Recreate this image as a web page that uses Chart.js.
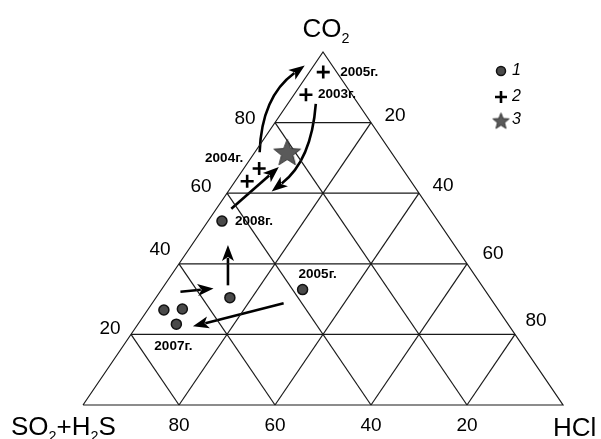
<!DOCTYPE html>
<html><head><meta charset="utf-8">
<script src="https://cdn.jsdelivr.net/npm/chart.js@4"></script>
<style>html,body{margin:0;padding:0;background:#fff}#wrap{width:601px;height:439px;position:relative}</style>
</head><body><div id="wrap"><canvas id="c" width="601" height="439"></canvas></div>
<script>
// ---- data (ternary percentages) ----
const gridLevels = [20, 40, 60, 80];
const leftTickLabels = ['20', '40', '60', '80'];     // CO2 at levels 20..80
const rightTickLabels = ['20', '40', '60', '80'];    // HCl at levels 20..80
const bottomTickLabels = ['80', '60', '40', '20'];   // SO2+H2S at HCl levels 20..80

// series 1 (circles)
const s1CO2 = [52.1, 30.4, 32.7, 26.9, 27.2, 22.9];
const s1HCl = [2.9, 15.4, 29.4, 3.4, 7.1, 8.0];
// series 2 (crosses)
const s2CO2 = [94.3, 87.9, 67.0, 63.4];
const s2HCl = [2.9, 2.5, 3.2, 2.5];
// series 3 (star)
const s3CO2 = [71.7];
const s3HCl = [6.7];

// year labels attached to points: [series, index, text]
const yearSeries = [2, 2, 2, 1, 1, 1];
const yearIndex = [0, 1, 2, 0, 2, 5];
const yearText = ['2005г.', '2003г.', '2004г.', '2008г.', '2005г.', '2007г.'];

// arrows (ternary [CO2, HCl]); via = control point for curved arrows
const arrowFrom = [[71.6, 1.0], [85.3, 5.85], [55.6, 3.1], [33.9, 13.25], [32.1, 4.25], [28.8, 27.4]];
const arrowVia  = [[87.3, -6.45], [69.3, 12.95], null, null, null, null];
const arrowTo   = [[96.2, -1.9], [60.5, 9.05], [67.4, 7.1], [45.3, 7.55], [33.0, 10.7], [22.3, 11.75]];

const legendLabels = ['1', '2', '3'];

// ---- helpers ----
function tern(co2, hcl) { return { x: hcl + co2 / 2, y: co2 }; }
function pts(c, h) { return c.map((v, i) => tern(v, h[i])); }

function starImage(R, fill) {
  const s = Math.ceil(2 * R + 4);
  const cv = document.createElement('canvas');
  cv.width = s; cv.height = s;
  const g = cv.getContext('2d');
  g.beginPath();
  for (let i = 0; i < 10; i++) {
    const r = i % 2 ? R * 0.43 : R;
    const a = -Math.PI / 2 + i * Math.PI / 5;
    g.lineTo(s / 2 + r * Math.cos(a), s / 2 + 1.5 + r * Math.sin(a));
  }
  g.closePath();
  g.fillStyle = fill; g.fill();
  g.lineWidth = 1; g.strokeStyle = '#333'; g.stroke();
  return cv;
}
const bigStar = starImage(14, '#5a5a5a');
const smallStar = starImage(8.5, '#5a5a5a');

// grid lines
const gridSets = [];
const lineStyle = { showLine: true, pointRadius: 0, borderColor: '#1a1a1a', borderWidth: 1.2, fill: false, order: 10, clip: false };
gridSets.push(Object.assign({ data: [tern(0, 0), tern(0, 100), tern(100, 0), tern(0, 0)] }, lineStyle));
gridLevels.forEach(k => {
  gridSets.push(Object.assign({ data: [tern(k, 0), tern(k, 100 - k)] }, lineStyle));         // CO2 = k
  gridSets.push(Object.assign({ data: [tern(0, k), tern(100 - k, k)] }, lineStyle));         // HCl = k
  gridSets.push(Object.assign({ data: [tern(0, 100 - k), tern(100 - k, 0)] }, lineStyle));   // S = k
});

const series = [
  { data: pts(s1CO2, s1HCl), showLine: false, pointStyle: 'circle', pointRadius: 5, backgroundColor: '#4a4a4a', borderColor: '#111', borderWidth: 1.5, order: 1, clip: false },
  { data: pts(s2CO2, s2HCl), showLine: false, pointStyle: 'cross', pointRadius: 6.5, borderColor: '#000', borderWidth: 2.6, order: 1, clip: false },
  { data: pts(s3CO2, s3HCl), showLine: false, pointStyle: bigStar, pointRadius: 14, order: 0, clip: false }
];

function drawSub(ctx, parts, x, y, size, align) {
  ctx.textBaseline = 'alphabetic';
  ctx.textAlign = 'left';
  let w = 0;
  parts.forEach(p => { ctx.font = (p[1] ? size * 0.55 : size) + 'px "Liberation Sans", Arial, sans-serif'; w += ctx.measureText(p[0]).width; });
  let cx = align === 'center' ? x - w / 2 : x;
  parts.forEach(p => {
    ctx.font = (p[1] ? size * 0.55 : size) + 'px "Liberation Sans", Arial, sans-serif';
    ctx.fillText(p[0], cx, p[1] ? y + size * 0.22 : y);
    cx += ctx.measureText(p[0]).width;
  });
}

function arrowHead(ctx, tx, ty, dx, dy, len, hw) {
  const L = Math.hypot(dx, dy); const ux = dx / L, uy = dy / L;
  ctx.beginPath();
  ctx.moveTo(tx, ty);
  ctx.lineTo(tx - ux * len - uy * hw, ty - uy * len + ux * hw);
  ctx.lineTo(tx - ux * len * 0.75, ty - uy * len * 0.75);
  ctx.lineTo(tx - ux * len + uy * hw, ty - uy * len - ux * hw);
  ctx.closePath();
  ctx.fill();
}

const ternPlugin = {
  id: 'tern',
  beforeDatasetsDraw(chart) {
    const ctx = chart.ctx, xs = chart.scales.x, ys = chart.scales.y;
    const P = t => { const p = tern(t[0], t[1]); return [xs.getPixelForValue(p.x), ys.getPixelForValue(p.y)]; };
    ctx.save();
    ctx.strokeStyle = '#000'; ctx.fillStyle = '#000'; ctx.lineWidth = 2.6; ctx.lineCap = 'butt';
    arrowFrom.forEach((f, i) => {
      const a = P(f), b = P(arrowTo[i]);
      const c = arrowVia[i] ? P(arrowVia[i]) : null;
      const dx = c ? b[0] - c[0] : b[0] - a[0];
      const dy = c ? b[1] - c[1] : b[1] - a[1];
      const L = Math.hypot(dx, dy);
      const len = 16;
      const ex = b[0] - dx / L * len * 0.8, ey = b[1] - dy / L * len * 0.8;
      ctx.beginPath();
      ctx.moveTo(a[0], a[1]);
      if (c) ctx.quadraticCurveTo(c[0], c[1], ex, ey); else ctx.lineTo(ex, ey);
      ctx.stroke();
      arrowHead(ctx, b[0], b[1], dx, dy, len, 6);
    });
    ctx.restore();
  },
  afterDatasetsDraw(chart) {
    const ctx = chart.ctx, xs = chart.scales.x, ys = chart.scales.y;
    const P = (c, h) => { const p = tern(c, h); return [xs.getPixelForValue(p.x), ys.getPixelForValue(p.y)]; };
    ctx.save();
    ctx.fillStyle = '#000';
    // axis titles
    drawSub(ctx, [['CO', false], ['2', true]], 326, 37, 26, 'center');
    drawSub(ctx, [['SO', false], ['2', true], ['+H', false], ['2', true], ['S', false]], 11, 435, 26, 'left');
    drawSub(ctx, [['HCl', false]], 553, 436, 26, 'left');
    // tick labels
    ctx.font = '19px "Liberation Sans", Arial, sans-serif';
    ctx.textAlign = 'center'; ctx.textBaseline = 'middle';
    const leftOff = [[-21, -6], [-19, -14], [-26, -6], [-30, -4]];
    const rightOff = [[24, -7], [24, -7], [26, -10], [21, -14]];
    gridLevels.forEach((k, i) => {
      let p = P(k, 0);
      ctx.fillText(leftTickLabels[i], p[0] + leftOff[i][0], p[1] + leftOff[i][1]);
      p = P(100 - k, k);
      ctx.fillText(rightTickLabels[i], p[0] + rightOff[i][0], p[1] + rightOff[i][1]);
      p = P(0, k);
      ctx.fillText(bottomTickLabels[i], p[0], p[1] + 21);
    });
    // year labels
    ctx.font = 'bold 13.5px "Liberation Sans", Arial, sans-serif';
    const sets = [[s1CO2, s1HCl], [s2CO2, s2HCl]];
    const yOff = [[17, 0, 'left'], [12, 0, 'left'], [-16, -10, 'right'], [13, 0, 'left'], [-4, -15, 'left'], [-22, 22, 'left']];
    yearText.forEach((t, i) => {
      const s = sets[yearSeries[i] - 1];
      const p = P(s[0][yearIndex[i]], s[1][yearIndex[i]]);
      ctx.textAlign = yOff[i][2];
      ctx.fillText(t, p[0] + yOff[i][0], p[1] + yOff[i][1]);
    });
    // legend
    const lx = 501, ly = [71, 97, 120];
    ctx.beginPath(); ctx.arc(lx, ly[0], 4.5, 0, Math.PI * 2);
    ctx.fillStyle = '#4a4a4a'; ctx.fill(); ctx.lineWidth = 1.5; ctx.strokeStyle = '#111'; ctx.stroke();
    ctx.beginPath(); ctx.lineWidth = 2.6; ctx.strokeStyle = '#000';
    ctx.moveTo(lx - 6, ly[1]); ctx.lineTo(lx + 6, ly[1]); ctx.moveTo(lx, ly[1] - 6); ctx.lineTo(lx, ly[1] + 6); ctx.stroke();
    ctx.drawImage(smallStar, lx - smallStar.width / 2, ly[2] - smallStar.height / 2);
    ctx.fillStyle = '#000';
    ctx.font = 'italic 16px "Liberation Sans", Arial, sans-serif';
    ctx.textAlign = 'left'; ctx.textBaseline = 'middle';
    legendLabels.forEach((t, i) => ctx.fillText(t, 512, ly[i]));
    ctx.restore();
  }
};

new Chart(document.getElementById('c'), {
  type: 'scatter',
  data: { datasets: series.concat(gridSets) },
  options: {
    responsive: false,
    animation: false,
    layout: { padding: { left: 83, right: 38, top: 52, bottom: 34 } },
    scales: {
      x: { type: 'linear', min: 0, max: 100, display: false },
      y: { type: 'linear', min: 0, max: 100, display: false }
    },
    plugins: { legend: { display: false }, tooltip: { enabled: false } }
  },
  plugins: [ternPlugin]
});
</script>
</body></html>
